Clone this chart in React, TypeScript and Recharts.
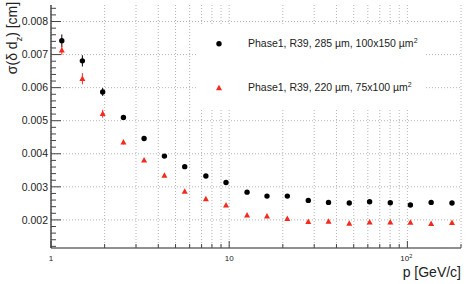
import React from 'react';
import { ScatterChart, Scatter, XAxis, YAxis, CartesianGrid, ErrorBar, Legend } from 'recharts';

// momentum bin centres [GeV/c]
const momentum = [1.15, 1.5, 1.95, 2.55, 3.33, 4.33, 5.63, 7.4, 9.6, 12.6, 16.3, 21.2, 27.8, 36.1, 47.2, 61.4, 80.2, 104, 136, 178];

// sigma(delta dz) [cm]
const sigma285 = [0.00742, 0.00681, 0.00587, 0.0051, 0.00446, 0.00393, 0.00361, 0.00333, 0.00313, 0.00284, 0.00272, 0.00272, 0.00259, 0.00253, 0.00251, 0.00255, 0.00252, 0.00245, 0.00253, 0.00251];
const err285 = [0.00019, 0.00017, 0.00012, 0.00006, 0.00005, 0.00004, 0.00004, 0.00003, 0.00003, 0.00003, 0.00003, 0.00003, 0.00003, 0.00003, 0.00003, 0.00003, 0.00003, 0.00003, 0.00003, 0.00003];
const sigma220 = [0.00713, 0.00627, 0.00521, 0.00435, 0.0038, 0.00334, 0.00286, 0.00263, 0.00244, 0.00214, 0.00211, 0.00203, 0.00194, 0.00195, 0.00189, 0.00193, 0.00193, 0.00192, 0.00188, 0.00191];
const err220 = [0.00014, 0.00017, 0.00012, 0.00007, 0.00005, 0.00004, 0.00004, 0.00003, 0.00003, 0.00003, 0.00003, 0.00003, 0.00003, 0.00003, 0.00003, 0.00003, 0.00003, 0.00003, 0.00003, 0.00003];

const label285 = 'Phase1, R39, 285 µm, 100x150 µm';
const label220 = 'Phase1, R39, 220 µm, 75x100 µm';

const xTicks = [1, 2, 3, 4, 5, 6, 7, 8, 9, 10, 20, 30, 40, 50, 60, 70, 80, 90, 100, 200];
const xMajor = [1, 10, 100];
const yMajor = [0.002, 0.003, 0.004, 0.005, 0.006, 0.007, 0.008];
const yTicks = Array.from({ length: 37 }, (_, i) => +(0.0012 + i * 0.0002).toFixed(4));

const data285 = momentum.map((p, i) => ({ p, v: sigma285[i], e: err285[i] }));
const data220 = momentum.map((p, i) => ({ p, v: sigma220[i], e: err220[i] }));

const FONT = 'Liberation Sans, Arial, Helvetica, sans-serif';
const AXIS = '#222';
const RED = '#f52a1e';

const isYMajor = (v: number) => Math.abs(v * 1000 - Math.round(v * 1000)) < 1e-6;

const YTick = (props: any) => {
  const { x, y, payload, side } = props;
  const major = isYMajor(payload.value);
  const dir = side === 'left' ? 1 : -1;
  const len = major ? 10 : 5;
  return (
    <g>
      <line x1={x} x2={x + dir * len} y1={y} y2={y} stroke="#444" />
      {major && side === 'left' && (
        <text x={x - 3} y={y} dy="0.35em" textAnchor="end" fontSize={10.5} fontFamily={FONT} fill="#222">
          {payload.value.toFixed(3)}
        </text>
      )}
    </g>
  );
};

const XTick = (props: any) => {
  const { x, y, payload, side } = props;
  const v = payload.value;
  const major = xMajor.includes(v);
  const dir = side === 'bottom' ? -1 : 1;
  const len = major ? 7 : 4;
  let lbl = null;
  if (side === 'bottom' && major) {
    lbl =
      v === 100 ? (
        <text x={x - 7} y={y + 13} fontSize={8} fontFamily={FONT} fill="#222">
          10<tspan dy={-3.5} fontSize={5.5}>2</tspan>
        </text>
      ) : (
        <text x={x} y={y + 13} textAnchor="middle" fontSize={8} fontFamily={FONT} fill="#222">
          {v}
        </text>
      );
  }
  return (
    <g>
      <line x1={x} x2={x} y1={y} y2={y + dir * len} stroke="#444" />
      {lbl}
    </g>
  );
};

const Dot = (props: any) => <circle cx={props.cx} cy={props.cy} r={2.7} fill="#000" />;

const Tri = (props: any) => {
  const { cx, cy } = props;
  return <polygon points={`${cx},${cy - 3.3} ${cx - 3},${cy + 2.2} ${cx + 3},${cy + 2.2}`} fill={RED} />;
};

const LegendBox = () => (
  <div style={{ position: 'relative', width: 228, height: 84, background: '#fff', fontFamily: FONT, fontSize: 10.5, color: '#222' }}>
    <svg width={40} height={84} style={{ position: 'absolute', left: 0, top: 0 }}>
      <circle cx={22} cy={19.7} r={2.7} fill="#000" />
      <polygon points={`22,${64 - 3.3} 19,${64 + 2.2} 25,${64 + 2.2}`} fill={RED} />
    </svg>
    <div style={{ position: 'absolute', left: 51, top: 13, whiteSpace: 'nowrap' }}>
      {label285}
      <span style={{ fontSize: 7, position: 'relative', top: -4 }}>2</span>
    </div>
    <div style={{ position: 'absolute', left: 51, top: 57, whiteSpace: 'nowrap' }}>
      {label220}
      <span style={{ fontSize: 7, position: 'relative', top: -4 }}>2</span>
    </div>
  </div>
);

const YTitle = (props: any) => (
  <text x={16.5} y={38} transform="rotate(-90 16.5 38)" textAnchor="middle" fontSize={14} fontFamily={FONT} fill="#222">
    σ(δ d<tspan baselineShift="sub" fontSize={9}>z</tspan>) [cm]
  </text>
);

const XTitle = (props: any) => {
  const vb = props.viewBox || { x: 51, y: 248, width: 410 };
  return (
    <text x={vb.x + vb.width} y={vb.y + 29} textAnchor="end" fontSize={14} fontFamily={FONT} fill="#222">
      p [GeV/c]
    </text>
  );
};

export default function App() {
  return (
    <div style={{ position: 'absolute', left: 0, top: 0, background: '#fff' }}>
      <ScatterChart width={470} height={284} margin={{ top: 5, right: 9, bottom: 0, left: 0 }}>
        <CartesianGrid stroke="#b5b5b5" strokeDasharray="1 2" horizontalValues={yMajor} />
        <XAxis
          dataKey="p"
          type="number"
          scale="log"
          domain={[1, 200]}
          allowDataOverflow
          ticks={xTicks}
          interval={0}
          height={36}
          tickSize={0}
          tickMargin={0}
          tickLine={false}
          axisLine={{ stroke: AXIS, strokeWidth: 1.2 }}
          tick={<XTick side="bottom" />}
          label={{ content: <XTitle /> }}
        />
        <XAxis
          xAxisId="top"
          orientation="top"
          type="number"
          scale="log"
          domain={[1, 200]}
          allowDataOverflow
          ticks={xTicks}
          interval={0}
          height={0}
          tickSize={0}
          tickMargin={0}
          tickLine={false}
          axisLine={{ stroke: AXIS, strokeWidth: 1.2 }}
          tick={<XTick side="top" />}
        />
        <YAxis
          dataKey="v"
          type="number"
          domain={[0.00115, 0.0085]}
          allowDataOverflow
          ticks={yTicks}
          interval={0}
          width={51}
          tickSize={0}
          tickMargin={0}
          tickLine={false}
          axisLine={{ stroke: AXIS, strokeWidth: 1.2 }}
          tick={<YTick side="left" />}
          label={{ content: <YTitle /> }}
        />
        <YAxis
          yAxisId="right"
          orientation="right"
          type="number"
          domain={[0.00115, 0.0085]}
          allowDataOverflow
          ticks={yTicks}
          interval={0}
          width={0}
          tickSize={0}
          tickMargin={0}
          tickLine={false}
          axisLine={{ stroke: AXIS, strokeWidth: 1.2 }}
          tick={<YTick side="right" />}
        />
        <Legend
          layout="horizontal"
          verticalAlign="middle"
          align="center"
          content={<LegendBox />}
          wrapperStyle={{ position: 'absolute', left: 197, top: 24, width: 228, height: 84 }}
        />
        <Scatter name={label285} data={data285} shape={<Dot />} isAnimationActive={false}>
          <ErrorBar dataKey="e" direction="y" width={0} stroke="#000" strokeWidth={1} />
        </Scatter>
        <Scatter name={label220} data={data220} shape={<Tri />} isAnimationActive={false}>
          <ErrorBar dataKey="e" direction="y" width={0} stroke={RED} strokeWidth={1} />
        </Scatter>
      </ScatterChart>
    </div>
  );
}
